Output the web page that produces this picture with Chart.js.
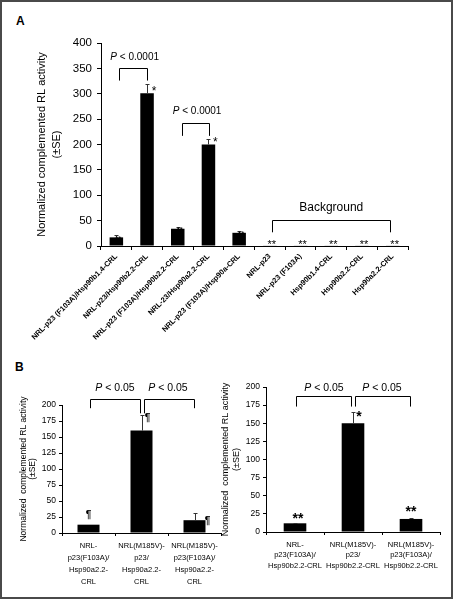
<!DOCTYPE html>
<html>
<head>
<meta charset="utf-8">
<script src="https://cdn.jsdelivr.net/npm/chart.js@4.4.0/dist/chart.umd.min.js"></script>
<style>
  html, body { margin: 0; padding: 0; background: #fff; }
  #page { position: relative; width: 454px; height: 600px; overflow: hidden; font-family: "Liberation Sans", Arial, sans-serif; }
  #frame { position: absolute; left: 0; top: 0; width: 449px; height: 595px; border: 2px solid #4a4a4a; }
  .panel { position: absolute; font-weight: bold; font-size: 12px; line-height: 12px; color: #000; }
  canvas { position: absolute; }
</style>
</head>
<body>
<div id="page">
  <div id="frame"></div>
  <div class="panel" style="left:16px;top:15px">A</div>
  <div class="panel" style="left:15px;top:361px">B</div>
  <canvas id="chartA" width="454" height="360" style="left:0;top:0"></canvas>
  <canvas id="chartBL" width="228" height="226" style="left:0;top:370px"></canvas>
  <canvas id="chartBR" width="240" height="226" style="left:212px;top:370px"></canvas>
</div>
<script>
// ---- data ----
const catsA = ['NRL-p23 (F103A)/Hsp90b1.4-CRL', 'NRL-p23/Hsp90b2.2-CRL', 'NRL-p23 (F103A)/Hsp90b2.2-CRL',
  'NRL-23/Hsp90a2.2-CRL', 'NRL-p23 (F103A)/Hsp90a-CRL', 'NRL-p23', 'NRL-p23 (F103A)',
  'Hsp90b1.4-CRL', 'Hsp90b2.2-CRL', 'Hsp90a2.2-CRL'];
const valsA = [17, 301, 34, 200, 26, 1.5, 1.5, 1.5, 1.5, 1.5];
const errA = [4, 18, 4, 11, 4, 0, 0, 0, 0, 0];
const marksA = ['**', '*', '**', '*', '**', '**', '**', '**', '**', '**'];
const yTicksA = [0, 50, 100, 150, 200, 250, 300, 350, 400];

const catsBL = [['NRL-', 'p23(F103A)/', 'Hsp90a2.2-', 'CRL'],
  ['NRL(M185V)-', 'p23/', 'Hsp90a2.2-', 'CRL'],
  ['NRL(M185V)-', 'p23(F103A)/', 'Hsp90a2.2-', 'CRL']];
const valsBL = [13, 160, 20];
const errBL = [0, 25, 12];
const marksBL = ['¶', '¶', '¶'];

const catsBR = [['NRL-', 'p23(F103A)/', 'Hsp90b2.2-CRL'],
  ['NRL(M185V)-', 'p23/', 'Hsp90b2.2-CRL'],
  ['NRL(M185V)-', 'p23(F103A)/', 'Hsp90b2.2-CRL']];
const valsBR = [12, 150, 18];
const errBR = [1, 16, 2];
const marksBR = ['**', '*', '**'];

const yTicksB = [0, 25, 50, 75, 100, 125, 150, 175, 200];
const yTitleA = ['Normalized complemented RL activity', '(\u00B1SE)'];
const yTitleB = ['Normalized  complemented RL activity', '(\u00B1SE)'];

const FONT = '"Liberation Sans", Arial, sans-serif';

// ---- drawing helpers ----
function bracket(ctx, x1, x2, yTop, yL, yR) {
  const r = v => Math.round(v) + 0.5;
  ctx.beginPath();
  ctx.moveTo(r(x1), yL);
  ctx.lineTo(r(x1), r(yTop));
  ctx.lineTo(r(x2), r(yTop));
  ctx.lineTo(r(x2), yR);
  ctx.stroke();
}

// "P < ..." with italic P, centred on x, vertical middle on y
function pText(ctx, rest, x, y, size) {
  ctx.textBaseline = 'middle';
  ctx.textAlign = 'left';
  ctx.font = 'italic ' + size + 'px ' + FONT;
  const wp = ctx.measureText('P').width;
  ctx.font = size + 'px ' + FONT;
  const wr = ctx.measureText(rest).width;
  const x0 = x - (wp + wr) / 2;
  ctx.font = 'italic ' + size + 'px ' + FONT;
  ctx.fillText('P', x0, y);
  ctx.font = size + 'px ' + FONT;
  ctx.fillText(rest, x0 + wp, y);
}

// asterisks sit high in the em box, so shift to put their visual centre on y
function stars(ctx, s, x, y, size, weight) {
  ctx.font = (weight || 'normal') + ' ' + size + 'px ' + FONT;
  ctx.textAlign = 'center';
  ctx.textBaseline = 'alphabetic';
  ctx.fillText(s, x, y + size * 0.57);
}

const errorBars = {
  id: 'errorBars',
  afterDatasetsDraw(chart, args, opts) {
    const { ctx } = chart;
    const meta = chart.getDatasetMeta(0);
    const y = chart.scales.y;
    const data = chart.data.datasets[0].data;
    ctx.save();
    ctx.strokeStyle = '#333';
    ctx.lineWidth = 1;
    opts.errors.forEach((e, i) => {
      if (!e) return;
      const bx = Math.round(meta.data[i].x) + 0.5;
      const top = Math.round(y.getPixelForValue(data[i] + e)) + 0.5;
      ctx.beginPath();
      ctx.moveTo(bx, y.getPixelForValue(data[i]));
      ctx.lineTo(bx, top);
      ctx.moveTo(bx - 2, top);
      ctx.lineTo(bx + 2, top);
      ctx.stroke();
    });
    ctx.restore();
  }
};

function yAxis(ticks, tickSize, width, title, titleSize, titleLine, titlePad, tickLen, tickPad) {
  return {
    min: ticks[0],
    max: ticks[ticks.length - 1],
    afterBuildTicks: s => { s.ticks = ticks.map(v => ({ value: v })); },
    afterFit: s => { s.width = width; },
    border: { display: true, color: '#000', width: 1 },
    grid: { drawOnChartArea: false, tickLength: tickLen, color: '#000' },
    ticks: { font: { family: FONT, size: tickSize }, color: '#000', padding: tickPad },
    title: {
      display: true, text: title, color: '#000',
      font: { family: FONT, size: titleSize, lineHeight: titleLine },
      padding: { top: titlePad, bottom: 0 }
    }
  };
}

// ---- panel A ----
new Chart(document.getElementById('chartA'), {
  type: 'bar',
  data: {
    labels: catsA,
    datasets: [{
      data: valsA,
      backgroundColor: valsA.map(v => v < 5 ? '#9a9a9a' : '#000'),
      barPercentage: 0.44,
      categoryPercentage: 1
    }]
  },
  options: {
    responsive: false,
    animation: false,
    layout: { padding: { left: 0, right: 46, top: 43, bottom: 14 } },
    plugins: { legend: { display: false }, tooltip: { enabled: false }, errorBars: { errors: errA } },
    scales: {
      x: {
        afterFit: s => { s.height = 100; },
        border: { color: '#000' },
        grid: { drawOnChartArea: false, tickLength: 4, color: '#000', offset: true },
        ticks: {
          font: { family: FONT, size: 7.5, weight: 'bold' }, color: '#000',
          minRotation: 45, maxRotation: 45, autoSkip: false, padding: 2
        }
      },
      y: yAxis(yTicksA, 11.5, 101, yTitleA, 11, '15px', 34.5, 4, 5)
    }
  },
  plugins: [errorBars, {
    id: 'annotA',
    afterDraw(chart) {
      const { ctx, scales: { x, y } } = chart;
      const X = i => x.getPixelForValue(i);
      const Y = v => y.getPixelForValue(v);
      ctx.save();
      ctx.strokeStyle = '#000';
      ctx.fillStyle = '#000';
      ctx.lineWidth = 1;
      bracket(ctx, X(0) + 3, X(1), Y(351), Y(326), Y(326));
      pText(ctx, ' < 0.0001', (X(0) + X(1)) / 2 + 3, Y(372), 10);
      bracket(ctx, X(2) + 4, X(3) + 1, Y(243), Y(217), Y(217));
      pText(ctx, ' < 0.0001', (X(2) + X(3)) / 2 + 4, Y(265), 10);
      bracket(ctx, X(5) + 2, X(9) - 3, Y(51), Y(27), Y(27));
      ctx.font = '12px ' + FONT;
      ctx.textAlign = 'center';
      ctx.textBaseline = 'middle';
      ctx.fillText('Background', (X(5) + X(9)) / 2, Y(76));
      marksA.forEach((m, i) => {
        const v = valsA[i], e = errA[i];
        if (v < 5) {
          stars(ctx, m, X(i) + 2, Y(9), 11);
        } else if (m === '*') {
          stars(ctx, m, X(i) + 7, Y(v) - 5, 12);
        } else {
          stars(ctx, m, X(i) + 2, Y(v + e) + 1, 8);
        }
      });
      ctx.restore();
    }
  }]
});

// ---- panel B ----
function chartB(id, cats, vals, errs, marks, opt) {
  return new Chart(document.getElementById(id), {
    type: 'bar',
    data: {
      labels: cats,
      datasets: [{ data: vals, backgroundColor: '#000', barPercentage: opt.barPct, categoryPercentage: 1 }]
    },
    options: {
      responsive: false,
      animation: false,
      layout: { padding: opt.padding },
      plugins: { legend: { display: false }, tooltip: { enabled: false }, errorBars: { errors: errs } },
      scales: {
        x: {
          afterFit: s => { s.height = opt.xHeight; },
          border: { color: '#000' },
          grid: { drawOnChartArea: false, tickLength: 3, color: '#000', offset: true },
          ticks: {
            font: { family: FONT, size: 7.5, lineHeight: opt.labelLine }, color: '#000',
            maxRotation: 0, autoSkip: false, padding: opt.labelPad
          }
        },
        y: yAxis(yTicksB, 8.5, opt.yWidth, yTitleB, opt.titleSize, opt.titleLine, opt.titlePad, 3, 3)
      }
    },
    plugins: [errorBars, {
      id: 'annot' + id,
      afterDraw(chart) {
        const { ctx, scales: { x, y } } = chart;
        const X = i => x.getPixelForValue(i);
        const Y = v => y.getPixelForValue(v);
        ctx.save();
        ctx.strokeStyle = '#000';
        ctx.fillStyle = '#000';
        ctx.lineWidth = 1;
        const b = opt.brackets;
        bracket(ctx, X(0) + 1, X(1) - 2, Y(b.top), Y(b.legL), Y(b.legM));
        bracket(ctx, X(1) + 2, X(2) - 1, Y(b.top), Y(b.legM), Y(b.legL));
        pText(ctx, ' < 0.05', (X(0) + X(1)) / 2, Y(b.text), 10.5);
        pText(ctx, ' < 0.05', (X(1) + X(2)) / 2, Y(b.text), 10.5);
        marks.forEach((m, i) => {
          const v = vals[i], e = errs[i];
          const off = opt.markOffsets[i];
          if (m === '¶') {
            ctx.font = 'bold 10px ' + FONT;
            ctx.textAlign = 'center';
            ctx.textBaseline = 'middle';
            ctx.fillText(m, X(i) + off[0], Y(v + e) + off[1]);
          } else {
            stars(ctx, m, X(i) + off[0], Y(v + e) + off[1], 14, 'bold');
          }
        });
        ctx.restore();
      }
    }]
  });
}

chartB('chartBL', catsBL, valsBL, errBL, marksBL, {
  barPct: 0.415,
  padding: { left: 0, right: 7, top: 35, bottom: 3 },
  xHeight: 60,
  yWidth: 62,
  labelLine: '11.7px',
  labelPad: 4.5,
  titleSize: 8.5,
  titleLine: '9px',
  titlePad: 19.5,
  brackets: { top: 210, legL: 195, legM: 187, text: 227 },
  markOffsets: [[0, -9], [6, 4], [13, 9]]
});

chartB('chartBR', catsBR, valsBR, errBR, marksBR, {
  barPct: 0.39,
  padding: { left: 0, right: 12, top: 17, bottom: 4 },
  xHeight: 60,
  yWidth: 54,
  labelLine: '10.5px',
  labelPad: 4.5,
  titleSize: 9,
  titleLine: '11px',
  titlePad: 8.5,
  brackets: { top: 187, legL: 173, legM: 173, text: 199 },
  markOffsets: [[3, -8], [6, 1], [0, -9]]
});
</script>
</body>
</html>
